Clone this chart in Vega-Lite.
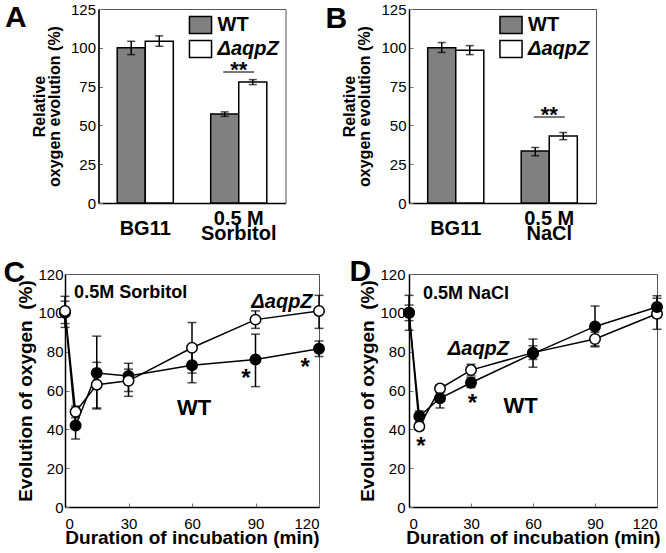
{
  "$schema": "https://vega.github.io/schema/vega-lite/v6.json",
  "padding": {"left": 2, "top": 1, "right": 0, "bottom": 2},
  "background": "white",
  "config": {
    "font": "Liberation Sans",
    "view": {"stroke": "#555", "strokeWidth": 1},
    "axis": {"labelColor": "black", "titleColor": "black", "domainColor": "black", "domainWidth": 1.5, "tickColor": "#777", "tickWidth": 1, "grid": false, "titleFontWeight": "bold", "labelFont": "Liberation Sans", "titleFont": "Liberation Sans", "labelOverlap": false}
  },
  "columns": 2,
  "align": "each",
  "bounds": "flush",
  "center": true,
  "spacing": {"row": 71, "column": 90},
  "resolve": {"scale": {"fill": "independent"}, "legend": {"fill": "independent"}},
  "datasets": {
    "barsA": [
      {"cond": "BG11", "strain": "WT", "v": 100, "lo": 95.6, "hi": 104.2},
      {"cond": "BG11", "strain": "ΔaqpZ", "v": 104.2, "lo": 101, "hi": 107.7},
      {"cond": "Sorbitol", "strain": "WT", "v": 57.3, "lo": 55.8, "hi": 58.7},
      {"cond": "Sorbitol", "strain": "ΔaqpZ", "v": 77.9, "lo": 76.3, "hi": 79.5}
    ],
    "sigA": [{"cond": "Sorbitol", "v": 84.4, "label": "**"}],
    "barsB": [
      {"cond": "BG11", "strain": "WT", "v": 100, "lo": 97, "hi": 103.4},
      {"cond": "BG11", "strain": "ΔaqpZ", "v": 98.5, "lo": 95.6, "hi": 101.4},
      {"cond": "NaCl", "strain": "WT", "v": 33.5, "lo": 30.5, "hi": 35.7},
      {"cond": "NaCl", "strain": "ΔaqpZ", "v": 43.2, "lo": 40.8, "hi": 45.4}
    ],
    "sigB": [{"cond": "NaCl", "v": 55.4, "label": "**"}],
    "lineC": [
      {"strain": "WT", "t": 0, "v": 100, "lo": 92.5, "hi": 108.5},
      {"strain": "WT", "t": 5, "v": 42, "lo": 35, "hi": 49},
      {"strain": "WT", "t": 15, "v": 69, "lo": 50.5, "hi": 88},
      {"strain": "WT", "t": 30, "v": 67.5, "lo": 59.5, "hi": 74},
      {"strain": "WT", "t": 60, "v": 73, "lo": 64, "hi": 82},
      {"strain": "WT", "t": 90, "v": 76, "lo": 62, "hi": 89},
      {"strain": "WT", "t": 120, "v": 81.5, "lo": 77.5, "hi": 85.5},
      {"strain": "ΔaqpZ", "t": 0, "v": 101, "lo": 94.5, "hi": 106},
      {"strain": "ΔaqpZ", "t": 5, "v": 49, "lo": 46, "hi": 52},
      {"strain": "ΔaqpZ", "t": 15, "v": 63, "lo": 51, "hi": 74.5},
      {"strain": "ΔaqpZ", "t": 30, "v": 65, "lo": 57, "hi": 71},
      {"strain": "ΔaqpZ", "t": 60, "v": 82, "lo": 69, "hi": 95},
      {"strain": "ΔaqpZ", "t": 90, "v": 96.5, "lo": 92, "hi": 101},
      {"strain": "ΔaqpZ", "t": 120, "v": 101, "lo": 92, "hi": 109}
    ],
    "lineD": [
      {"strain": "ΔaqpZ", "t": 0, "v": 100, "lo": 96, "hi": 104},
      {"strain": "ΔaqpZ", "t": 5, "v": 41.5, "lo": 39.5, "hi": 43.5},
      {"strain": "ΔaqpZ", "t": 15, "v": 61, "lo": 59, "hi": 63},
      {"strain": "ΔaqpZ", "t": 30, "v": 70.5, "lo": 67.5, "hi": 73.5},
      {"strain": "ΔaqpZ", "t": 60, "v": 79.5, "lo": 76, "hi": 83},
      {"strain": "ΔaqpZ", "t": 90, "v": 86.5, "lo": 83, "hi": 90},
      {"strain": "ΔaqpZ", "t": 120, "v": 99.5, "lo": 91.5, "hi": 107.5},
      {"strain": "WT", "t": 0, "v": 100, "lo": 91, "hi": 109},
      {"strain": "WT", "t": 5, "v": 46.7, "lo": 44, "hi": 49.5},
      {"strain": "WT", "t": 15, "v": 56, "lo": 51, "hi": 61},
      {"strain": "WT", "t": 30, "v": 64, "lo": 61.5, "hi": 66.5},
      {"strain": "WT", "t": 60, "v": 79, "lo": 72, "hi": 86.5},
      {"strain": "WT", "t": 90, "v": 93, "lo": 82.5, "hi": 103.5},
      {"strain": "WT", "t": 120, "v": 103, "lo": 97.5, "hi": 108.8}
    ],
    "txtC": [{"t": 31, "v": 110, "label": "0.5M Sorbitol", "fs": 18}, {"t": 61, "v": 51, "label": "WT", "fs": 22}],
    "italC": [{"t": 102.5, "v": 105.7, "label": "ΔaqpZ"}],
    "starC": [{"t": 85.5, "v": 69, "label": "*"}, {"t": 113.5, "v": 74.8, "label": "*"}],
    "txtD": [{"t": 27.6, "v": 109.7, "label": "0.5M NaCl", "fs": 18}, {"t": 54, "v": 52.2, "label": "WT", "fs": 22}],
    "italD": [{"t": 33.6, "v": 81.2, "label": "ΔaqpZ"}],
    "starD": [{"t": 5.8, "v": 33.8, "label": "*"}, {"t": 30.7, "v": 56.2, "label": "*"}]
  },
  "concat": [
    {
      "width": 187, "height": 194,
      "data": {"name": "barsA"},
      "encoding": {
        "x": {"field": "cond", "type": "nominal", "sort": null,
          "scale": {"domain": ["BG11", "Sorbitol"], "paddingInner": 0.4, "paddingOuter": 0.2},
          "axis": {"title": "A", "titleX": -94, "titleY": -177, "titleAlign": "left", "titleBaseline": "alphabetic", "titleAngle": 0, "titleFontSize": 30, "labelAngle": 0, "labelFontSize": 20, "labelFontWeight": "bold", "labelExpr": "datum.value == 'BG11' ? 'BG11' : ['0.5 M', 'Sorbitol']", "labelBaseline": {"condition": {"test": "datum.value == 'BG11'", "value": "top"}, "value": "middle"}, "labelLineHeight": 15, "ticks": false, "tickSize": 0, "labelPadding": 15}},
        "xOffset": {"field": "strain", "type": "nominal", "sort": null, "scale": {"domain": ["WT", "ΔaqpZ"]}},
        "y": {"field": "v", "type": "quantitative", "scale": {"domain": [0, 125], "nice": false},
          "axis": {"values": [0, 25, 50, 75, 100, 125], "title": ["Relative", "oxygen evolution (%)"], "titleFontSize": 16, "titleLineHeight": 15, "labelFontSize": 15, "tickSize": -4, "labelPadding": 7, "titlePadding": 8}}
      },
      "layer": [
        {
          "mark": {"type": "bar", "stroke": "black", "strokeWidth": 1.5},
          "encoding": {
            "fill": {"field": "strain", "type": "nominal", "sort": null, "scale": {"domain": ["WT", "ΔaqpZ"], "range": ["#808080", "white"]},
              "legend": {"title": null, "orient": "top-right", "offset": 6, "padding": 0, "symbolType": "M-1.3,-1H1.3V1H-1.3Z", "symbolSize": 289, "symbolStrokeColor": "black", "symbolStrokeWidth": 1.5, "labelFontSize": 20, "labelFontWeight": "bold", "labelFont": "Liberation Sans", "labelColor": "black", "labelFontStyle": {"expr": "datum.label == 'WT' ? 'normal' : 'italic'"}, "rowPadding": 0, "labelOffset": 7}}
          }
        },
        {"mark": {"type": "rule", "color": "black", "strokeWidth": 1.5}, "encoding": {"y": {"field": "lo", "type": "quantitative"}, "y2": {"field": "hi"}}},
        {"mark": {"type": "tick", "color": "black", "thickness": 1.5, "size": 8}, "encoding": {"y": {"field": "lo", "type": "quantitative"}}},
        {"mark": {"type": "tick", "color": "black", "thickness": 1.5, "size": 8}, "encoding": {"y": {"field": "hi", "type": "quantitative"}}},
        {"data": {"name": "sigA"}, "mark": {"type": "tick", "color": "black", "thickness": 1.5, "size": 31}, "encoding": {"xOffset": null}},
        {"data": {"name": "sigA"}, "mark": {"type": "text", "fontSize": 22, "fontWeight": "bold", "baseline": "alphabetic", "dy": 5, "color": "black"}, "encoding": {"xOffset": null, "text": {"field": "label"}}}
      ]
    },
    {
      "width": 187, "height": 194,
      "data": {"name": "barsB"},
      "encoding": {
        "x": {"field": "cond", "type": "nominal", "sort": null,
          "scale": {"domain": ["BG11", "NaCl"], "paddingInner": 0.4, "paddingOuter": 0.2},
          "axis": {"title": "B", "titleX": -84, "titleY": -176, "titleAlign": "left", "titleBaseline": "alphabetic", "titleAngle": 0, "titleFontSize": 30, "labelAngle": 0, "labelFontSize": 20, "labelFontWeight": "bold", "labelExpr": "datum.value == 'BG11' ? 'BG11' : ['0.5 M', 'NaCl']", "labelBaseline": {"condition": {"test": "datum.value == 'BG11'", "value": "top"}, "value": "middle"}, "labelLineHeight": 15, "ticks": false, "tickSize": 0, "labelPadding": 15}},
        "xOffset": {"field": "strain", "type": "nominal", "sort": null, "scale": {"domain": ["WT", "ΔaqpZ"]}},
        "y": {"field": "v", "type": "quantitative", "scale": {"domain": [0, 125], "nice": false},
          "axis": {"values": [0, 25, 50, 75, 100, 125], "title": ["Relative", "oxygen evolution (%)"], "titleFontSize": 16, "titleLineHeight": 15, "labelFontSize": 15, "tickSize": -4, "labelPadding": 7, "titlePadding": 8}}
      },
      "layer": [
        {
          "mark": {"type": "bar", "stroke": "black", "strokeWidth": 1.5},
          "encoding": {
            "fill": {"field": "strain", "type": "nominal", "sort": null, "scale": {"domain": ["WT", "ΔaqpZ"], "range": ["#808080", "white"]},
              "legend": {"title": null, "orient": "top-right", "offset": 6, "padding": 0, "symbolType": "M-1.3,-1H1.3V1H-1.3Z", "symbolSize": 289, "symbolStrokeColor": "black", "symbolStrokeWidth": 1.5, "labelFontSize": 20, "labelFontWeight": "bold", "labelFont": "Liberation Sans", "labelColor": "black", "labelFontStyle": {"expr": "datum.label == 'WT' ? 'normal' : 'italic'"}, "rowPadding": 0, "labelOffset": 7}}
          }
        },
        {"mark": {"type": "rule", "color": "black", "strokeWidth": 1.5}, "encoding": {"y": {"field": "lo", "type": "quantitative"}, "y2": {"field": "hi"}}},
        {"mark": {"type": "tick", "color": "black", "thickness": 1.5, "size": 8}, "encoding": {"y": {"field": "lo", "type": "quantitative"}}},
        {"mark": {"type": "tick", "color": "black", "thickness": 1.5, "size": 8}, "encoding": {"y": {"field": "hi", "type": "quantitative"}}},
        {"data": {"name": "sigB"}, "mark": {"type": "tick", "color": "black", "thickness": 1.5, "size": 31}, "encoding": {"xOffset": null}},
        {"data": {"name": "sigB"}, "mark": {"type": "text", "fontSize": 22, "fontWeight": "bold", "baseline": "alphabetic", "dy": 5, "color": "black"}, "encoding": {"xOffset": null, "text": {"field": "label"}}}
      ]
    },
    {
      "width": 254, "height": 233,
      "resolve": {"axis": {"x": "independent"}},
      "encoding": {
        "y": {"field": "v", "type": "quantitative", "scale": {"domain": [0, 120], "nice": false},
          "axis": {"values": [0, 20, 40, 60, 80, 100, 120], "title": "Evolution of oxygen\u00a0 (%)", "titleFontSize": 19, "labelFontSize": 15, "tickSize": -4, "labelPadding": 6, "titlePadding": 2}}
      },
      "layer": [
        {"data": {"name": "lineC"}, "mark": {"type": "line", "color": "black", "strokeWidth": 1.5},
          "encoding": {"detail": {"field": "strain"},
            "x": {"field": "t", "type": "quantitative", "scale": {"domain": [0, 120], "nice": false},
              "axis": {"values": [0, 30, 60, 90, 120], "title": "Duration of incubation (min)", "titleFontSize": 19, "labelFontSize": 15, "tickSize": -4, "labelPadding": 13, "titlePadding": -3}}}},
        {"data": {"name": "lineC"}, "mark": {"type": "rule", "color": "black", "strokeWidth": 1.5},
          "encoding": {"y": {"field": "lo", "type": "quantitative"}, "y2": {"field": "hi"},
            "x": {"field": "t", "type": "quantitative", "scale": {"domain": [0, 120], "nice": false},
              "axis": {"orient": "top", "title": "C", "titleX": -62, "titleY": 7, "titleAlign": "left", "titleBaseline": "alphabetic", "titleAngle": 0, "titleFontSize": 30, "domain": false, "ticks": false, "labels": false}}}},
        {"data": {"name": "lineC"}, "mark": {"type": "tick", "orient": "horizontal", "color": "black", "thickness": 1.5, "size": 9}, "encoding": {"y": {"field": "lo", "type": "quantitative"}, "x": {"field": "t", "type": "quantitative", "axis": null}}},
        {"data": {"name": "lineC"}, "mark": {"type": "tick", "orient": "horizontal", "color": "black", "thickness": 1.5, "size": 9}, "encoding": {"y": {"field": "hi", "type": "quantitative"}, "x": {"field": "t", "type": "quantitative", "axis": null}}},
        {"data": {"name": "lineC"}, "mark": {"type": "point", "shape": "circle", "filled": true, "size": 110, "stroke": "black", "strokeWidth": 1.5, "opacity": 1},
          "encoding": {"x": {"field": "t", "type": "quantitative", "axis": null}, "fill": {"field": "strain", "type": "nominal", "scale": {"domain": ["WT", "ΔaqpZ"], "range": ["black", "white"]}, "legend": null}}},
        {"data": {"name": "txtC"}, "mark": {"type": "text", "fontWeight": "bold", "color": "black"}, "encoding": {"x": {"field": "t", "type": "quantitative", "axis": null}, "text": {"field": "label"}, "size": {"field": "fs", "type": "quantitative", "scale": null}}},
        {"data": {"name": "italC"}, "mark": {"type": "text", "fontSize": 20, "fontWeight": "bold", "fontStyle": "italic", "color": "black"}, "encoding": {"x": {"field": "t", "type": "quantitative", "axis": null}, "text": {"field": "label"}}},
        {"data": {"name": "starC"}, "mark": {"type": "text", "fontSize": 24, "fontWeight": "bold", "color": "black", "dy": 6}, "encoding": {"x": {"field": "t", "type": "quantitative", "axis": null}, "text": {"field": "label"}}}
      ]
    },
    {
      "width": 248, "height": 233,
      "resolve": {"axis": {"x": "independent"}},
      "encoding": {
        "y": {"field": "v", "type": "quantitative", "scale": {"domain": [0, 120], "nice": false},
          "axis": {"values": [0, 20, 40, 60, 80, 100, 120], "title": "Evolution of oxygen\u00a0 (%)", "titleFontSize": 19, "labelFontSize": 15, "tickSize": -4, "labelPadding": 8, "titlePadding": 2.5}}
      },
      "layer": [
        {"data": {"name": "lineD"}, "mark": {"type": "line", "color": "black", "strokeWidth": 1.5},
          "encoding": {"detail": {"field": "strain"},
            "x": {"field": "t", "type": "quantitative", "scale": {"domain": [0, 120], "nice": false},
              "axis": {"values": [0, 30, 60, 90, 120], "title": "Duration of incubation (min)", "titleFontSize": 19, "labelFontSize": 15, "tickSize": -4, "labelPadding": 13, "titlePadding": -3}}}},
        {"data": {"name": "lineD"}, "mark": {"type": "rule", "color": "black", "strokeWidth": 1.5},
          "encoding": {"y": {"field": "lo", "type": "quantitative"}, "y2": {"field": "hi"},
            "x": {"field": "t", "type": "quantitative", "scale": {"domain": [0, 120], "nice": false},
              "axis": {"orient": "top", "title": "D", "titleX": -60, "titleY": 6, "titleAlign": "left", "titleBaseline": "alphabetic", "titleAngle": 0, "titleFontSize": 30, "domain": false, "ticks": false, "labels": false}}}},
        {"data": {"name": "lineD"}, "mark": {"type": "tick", "orient": "horizontal", "color": "black", "thickness": 1.5, "size": 9}, "encoding": {"y": {"field": "lo", "type": "quantitative"}, "x": {"field": "t", "type": "quantitative", "axis": null}}},
        {"data": {"name": "lineD"}, "mark": {"type": "tick", "orient": "horizontal", "color": "black", "thickness": 1.5, "size": 9}, "encoding": {"y": {"field": "hi", "type": "quantitative"}, "x": {"field": "t", "type": "quantitative", "axis": null}}},
        {"data": {"name": "lineD"}, "mark": {"type": "point", "shape": "circle", "filled": true, "size": 110, "stroke": "black", "strokeWidth": 1.5, "opacity": 1},
          "encoding": {"x": {"field": "t", "type": "quantitative", "axis": null}, "fill": {"field": "strain", "type": "nominal", "scale": {"domain": ["WT", "ΔaqpZ"], "range": ["black", "white"]}, "legend": null}}},
        {"data": {"name": "txtD"}, "mark": {"type": "text", "fontWeight": "bold", "color": "black"}, "encoding": {"x": {"field": "t", "type": "quantitative", "axis": null}, "text": {"field": "label"}, "size": {"field": "fs", "type": "quantitative", "scale": null}}},
        {"data": {"name": "italD"}, "mark": {"type": "text", "fontSize": 20, "fontWeight": "bold", "fontStyle": "italic", "color": "black"}, "encoding": {"x": {"field": "t", "type": "quantitative", "axis": null}, "text": {"field": "label"}}},
        {"data": {"name": "starD"}, "mark": {"type": "text", "fontSize": 24, "fontWeight": "bold", "color": "black", "dy": 6}, "encoding": {"x": {"field": "t", "type": "quantitative", "axis": null}, "text": {"field": "label"}}}
      ]
    }
  ]
}
